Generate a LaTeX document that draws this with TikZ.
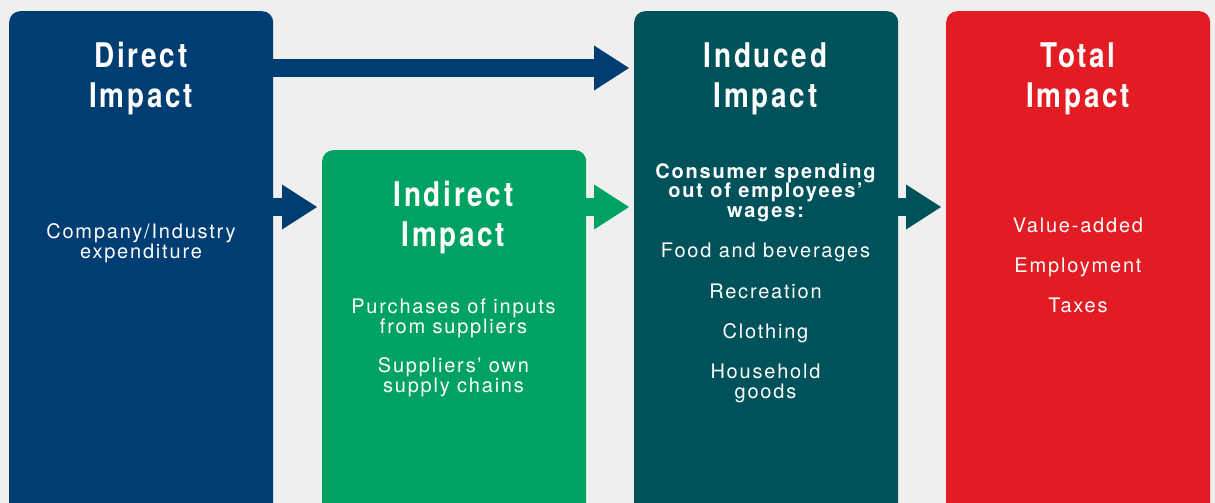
\documentclass[tikz,border=0pt]{standalone}
\usepackage{fontspec}
\usepackage{xcolor}
\usepackage{tikz}
\usetikzlibrary{positioning}
\usetikzlibrary{arrows.meta}
\setmainfont{TeX Gyre Heros}
\newfontfamily\headfont[FakeStretch=0.82,LetterSpace=8]{TeX Gyre Heros}
\newfontfamily\itemfont[LetterSpace=9]{TeX Gyre Heros}
\definecolor{dirblue}{RGB}{0,61,114}
\definecolor{indgreen}{RGB}{0,162,97}
\definecolor{indteal}{RGB}{0,82,90}
\definecolor{totred}{RGB}{227,27,35}
\definecolor{backgray}{RGB}{239,239,239}
\tikzstyle{block}=[rectangle,rounded corners=11pt,minimum width=264pt,minimum height=600pt,inner sep=0pt,anchor=north west]
\tikzstyle{headtext}=[text=white,font=\headfont\bfseries\fontsize{34}{40}\selectfont,align=center,anchor=base,inner sep=0pt]
\tikzstyle{itemtext}=[text=white,font=\itemfont\fontsize{20}{19.5}\selectfont,align=center,anchor=base,inner sep=0pt]
\tikzstyle{boldtext}=[itemtext,font=\itemfont\bfseries\fontsize{20}{19.5}\selectfont]
\tikzstyle{flow}=[draw,line width=18pt,shorten >=5pt,-{Triangle[length=35pt,width=45pt,line width=0pt]}]

\begin{document}
\begin{tikzpicture}[x=1pt,y=-1pt]

  \fill[backgray] (0,0) rectangle (1215,503);
  \clip (0,0) rectangle (1215,503);

  \foreach \x/\y/\name/\col in {9/11/dir/dirblue, 322/150/ind/indgreen, 634/11/indu/indteal, 946/11/tot/totred}
          \node[block,fill=\col] (\name) at (\x,\y) {};

  \coordinate (topy) at (0,68);
  \coordinate (lowy) at (0,207);

  \draw[flow,color=dirblue] (dir.east |- topy) -- (indu.west |- topy);
  \foreach \source/ \dest /\col in {dir/ind/dirblue, ind/indu/indgreen, indu/tot/indteal}
         \draw[flow,color=\col] (\source.east |- lowy) -- (\dest.west |- lowy);

  % base anchor sits on the last line
  \foreach \name/\x/\y/\first in {dir/141/107/Direct, ind/453.5/246/Indirect, indu/765.5/107/Induced, tot/1078/107/Total}
          \node[headtext] (\name-head) at (\x,\y) {\first\\Impact};

  \node[itemtext] (dir-text) at (141,258) {Company/Industry\\expenditure};

  \foreach \y/\name/\label in {333/ind-text1/{Purchases of inputs\\from suppliers}, 392/ind-text2/{Suppliers’ own\\supply chains}}
          \node[itemtext] (\name) at (453.5,\y) {\label};

  \node[boldtext] (indu-text) at (765.5,217) {Consumer spending\\out of employees’\\wages:};
  \foreach \y/\name/\label in {257/indu-text1/{Food and beverages}, 298/indu-text2/Recreation, 338/indu-text3/Clothing, 398/indu-text4/{Household\\goods}}
          \node[itemtext] (\name) at (765.5,\y) {\label};

  \foreach \y/\name/\label in {232/tot-text1/Value-added, 272/tot-text2/Employment, 312/tot-text3/Taxes}
          \node[itemtext] (\name) at (1078,\y) {\label};

\end{tikzpicture}
\end{document}
